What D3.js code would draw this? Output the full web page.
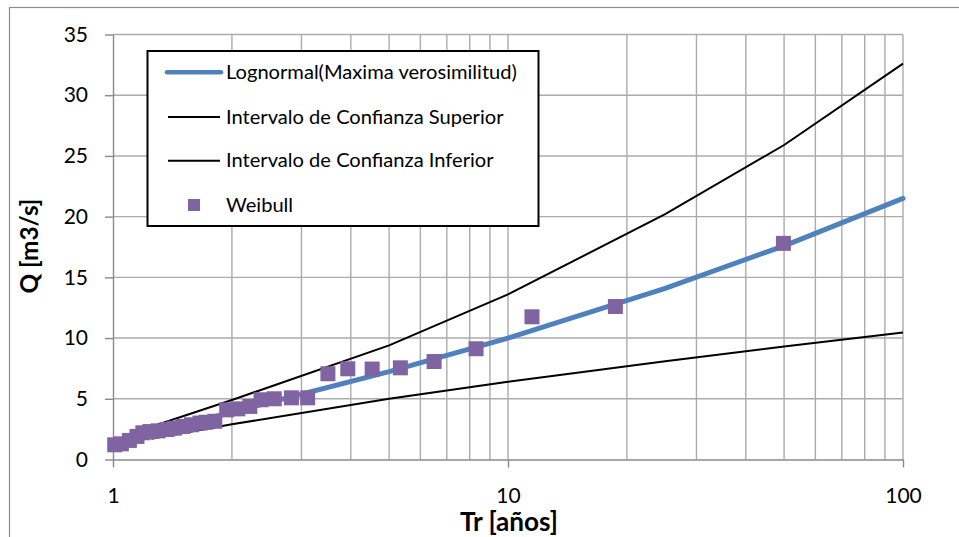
<!DOCTYPE html>
<html><head><meta charset="utf-8">
<script src="https://cdn.jsdelivr.net/npm/d3@7"></script>
<style>body{margin:0;background:#fff} svg{display:block}</style>
</head><body>
<svg id="c" width="959" height="537"></svg>
<script>
// ---- data ----
const fitT   = [1.05, 1.11, 1.25, 2, 5, 10, 25, 50, 100];
const fitQ   = [1.17, 1.59, 2.11, 3.91, 7.24, 10.0, 14.1, 17.6, 21.5];
const ciT    = [1.25, 2, 5, 10, 25, 50, 100];
const upperQ = [2.7, 4.9, 9.4, 13.6, 20.2, 25.9, 32.6];
const lowerQ = [1.7, 2.9, 5.0, 6.4, 8.1, 9.3, 10.45];
const weibullT = [1.01, 1.05, 1.10, 1.15, 1.19, 1.24, 1.30, 1.37, 1.43, 1.50, 1.58, 1.66, 1.72, 1.81,
                  1.94, 2.07, 2.22, 2.37, 2.56, 2.83, 3.11, 3.50, 3.93, 4.53, 5.34, 6.5, 8.3, 11.5, 18.7, 49.8];
const weibullQ = [1.21, 1.29, 1.57, 1.9, 2.2, 2.3, 2.36, 2.47, 2.58, 2.72, 2.86, 3.0, 3.07, 3.15,
                  4.09, 4.17, 4.37, 4.92, 5.0, 5.08, 5.08, 7.06, 7.47, 7.45, 7.55, 8.07, 9.12, 11.75, 12.6, 17.8];
const yTicks = [0, 5, 10, 15, 20, 25, 30, 35];
const xTicks = [1, 10, 100];
const legendLabels = ["Lognormal(Maxima verosimilitud)", "Intervalo de Confianza Superior",
                      "Intervalo de Confianza Inferior", "Weibull"];
const xTitle = "Tr [años]";
const yTitle = "Q [m3/s]";

// ---- layout ----
const FONT = "Lato, 'Open Sans', sans-serif";
const svg = d3.select("#c");
const L = 113, R = 903, T = 34.5, B = 459.5;
const x = d3.scaleLog().domain([1, 100]).range([L, R]);
const y = d3.scaleLinear().domain([0, 35]).range([B, T]);
const BLUE = "#4f81bd", PURPLE = "#8064a2", GRID = "#ababab", AXIS = "#8a8a8a";

// outer frame
svg.append("rect").attr("x", 9.5).attr("y", 7.5).attr("width", 1200).attr("height", 800)
  .attr("fill", "none").attr("stroke", "#8c8c8c").attr("stroke-width", 1.2);

// grid
const g = svg.append("g");
g.selectAll("line.h").data(yTicks.slice(1)).join("line")
  .attr("x1", L).attr("x2", R).attr("y1", d => y(d)).attr("y2", d => y(d))
  .attr("stroke", GRID).attr("stroke-width", 1.4);
g.selectAll("line.v").data(x.ticks().filter(d => d > 1)).join("line")
  .attr("y1", T).attr("y2", B).attr("x1", d => x(d)).attr("x2", d => x(d))
  .attr("stroke", GRID).attr("stroke-width", 1.4);

// axes
const ya = svg.append("g").attr("transform", `translate(${L},0)`)
  .call(d3.axisLeft(y).tickValues(yTicks).tickSize(8).tickSizeOuter(0).tickPadding(17).tickFormat(d3.format("d")));
const xa = svg.append("g").attr("transform", `translate(0,${B})`)
  .call(d3.axisBottom(x).tickValues(xTicks).tickSize(8).tickSizeOuter(0).tickPadding(21).tickFormat(d3.format("d")));
[ya, xa].forEach(a => {
  a.selectAll("path.domain").attr("stroke", AXIS).attr("stroke-width", 1.4);
  a.selectAll(".tick line").attr("stroke", AXIS).attr("stroke-width", 1.4);
  a.selectAll(".tick text").attr("fill", "#000").attr("font-family", FONT).attr("font-size", 21);
});

// lines
const line = d3.line().x(d => x(d[0])).y(d => y(d[1]));
svg.append("path").datum(d3.zip(ciT, upperQ)).attr("d", line)
  .attr("fill", "none").attr("stroke", "#000").attr("stroke-width", 2);
svg.append("path").datum(d3.zip(ciT, lowerQ)).attr("d", line)
  .attr("fill", "none").attr("stroke", "#000").attr("stroke-width", 2);
svg.append("path").datum(d3.zip(fitT, fitQ)).attr("d", line)
  .attr("fill", "none").attr("stroke", BLUE).attr("stroke-width", 5).attr("stroke-linecap", "round");

// points
const S = 15;
svg.selectAll("rect.pt").data(d3.zip(weibullT, weibullQ)).join("rect")
  .attr("x", d => x(d[0]) - S / 2).attr("y", d => y(d[1]) - S / 2)
  .attr("width", S).attr("height", S).attr("fill", PURPLE);

// titles
const xt = svg.append("text").attr("x", 509).attr("y", 531).attr("text-anchor", "middle")
  .attr("font-family", FONT).attr("font-weight", "bold").attr("font-size", 20).text(xTitle);
const yt = svg.append("text").attr("transform", "translate(38,246) rotate(-90)").attr("text-anchor", "middle")
  .attr("font-family", FONT).attr("font-weight", "bold").attr("font-size", 20).text(yTitle);
function fit(sel, w) {
  const cur = sel.node().getComputedTextLength();
  const fs = +sel.attr("font-size");
  sel.attr("font-size", fs * w / cur);
}
fit(xt, 98); fit(yt, 95);

// legend
const lg = svg.append("g");
lg.append("rect").attr("x", 147.5).attr("y", 51).attr("width", 391).attr("height", 175)
  .attr("fill", "#fff").attr("stroke", "#000").attr("stroke-width", 2);
const rows = [72.3, 117, 160.7, 205];
lg.append("line").attr("x1", 167).attr("x2", 221).attr("y1", rows[0]).attr("y2", rows[0])
  .attr("stroke", BLUE).attr("stroke-width", 4.5).attr("stroke-linecap", "round");
[1, 2].forEach(i => lg.append("line").attr("x1", 168).attr("x2", 220).attr("y1", rows[i]).attr("y2", rows[i])
  .attr("stroke", "#000").attr("stroke-width", 2));
lg.append("rect").attr("x", 194 - 6).attr("y", rows[3] - 6).attr("width", 12).attr("height", 12).attr("fill", PURPLE);
const lt = lg.selectAll("text").data(legendLabels).join("text")
  .attr("x", 226).attr("y", (d, i) => rows[i] + 6.5)
  .attr("font-family", FONT).attr("font-size", 18).attr("fill", "#000").text(d => d);
const w0 = lt.nodes()[0].getComputedTextLength();
lt.attr("font-size", 18 * 291 / w0);
</script>
</body></html>
